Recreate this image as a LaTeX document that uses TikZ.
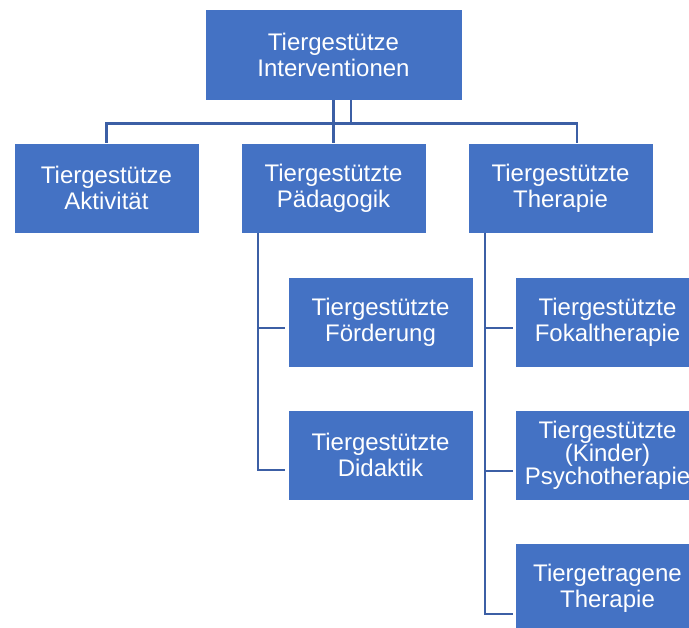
\documentclass[tikz,border=0pt]{standalone}
\usepackage{fontspec}
\setmainfont{Liberation Sans}
\definecolor{boxblue}{HTML}{4472C4}
\definecolor{linkblue}{HTML}{3C5FA5}
\begin{document}
\begin{tikzpicture}[x=1pt,y=1pt,
  orgbox/.style={rectangle, anchor=north west, fill=boxblue, draw=white,
    line width=0.75pt, text=white, align=center, inner sep=0pt, outer sep=0pt,
    minimum width=185pt, minimum height=90pt,
    font=\fontsize{24}{26}\selectfont},
  link/.style={draw=linkblue, line width=2.5pt}]
\useasboundingbox (0,0) rectangle (689,-628);
\clip (0,0) rectangle (689,-628);

% root
\node[orgbox, minimum width=257pt, minimum height=91pt] (root) at (205,-9) {Tiergestütze\\Interventionen};

% first level
\node[orgbox] (akt) at (14,-143) {Tiergestütze\\Aktivität};
\node[orgbox] (paed) at (241,-143) {Tiergestützte\\Pädagogik};
\node[orgbox] (ther) at (468,-143) {Tiergestützte\\Therapie};

% Pädagogik branch
\node[orgbox] (foer) at (288,-277) {Tiergestützte\\Förderung};
\node[orgbox] (didak) at (288,-410) {Tiergestützte\\Didaktik};

% Therapie branch
\node[orgbox] (fokal) at (515,-277) {Tiergestützte\\Fokaltherapie};
\node[orgbox, font=\fontsize{24}{23}\selectfont] (psych) at (515,-410) {Tiergestützte\\(Kinder)\\Psychotherapie};
\node[orgbox] (getr) at (515,-543) {Tiergetragene\\Therapie};

% connectors from the root
\coordinate (bar) at (0,-123.5);
\coordinate (rootdrop) at ([xshift=17.5pt]root.south);
\draw[link] (root.south) -- (paed.north);
\draw[link] (rootdrop) -- (rootdrop |- bar);
\draw[link] (akt.north) |- ([xshift=16.5pt]ther.north |- bar) -- ([xshift=16.5pt]ther.north);

% Pädagogik branch connectors
\coordinate (ptrunk) at ([xshift=17pt]paed.south west);
\draw[link] (ptrunk) |- ([xshift=-3pt,yshift=-6pt]foer.west);
\draw[link] (ptrunk) |- ([xshift=-3pt,yshift=-15pt]didak.west);

% Therapie branch connectors
\coordinate (ttrunk) at ([xshift=17pt]ther.south west);
\draw[link] (ttrunk) |- ([xshift=-2pt,yshift=-6pt]fokal.west);
\draw[link] (ttrunk) |- ([xshift=-2pt,yshift=-16pt]psych.west);
\draw[link] (ttrunk) |- ([xshift=-2pt,yshift=-26pt]getr.west);
\end{tikzpicture}
\end{document}
